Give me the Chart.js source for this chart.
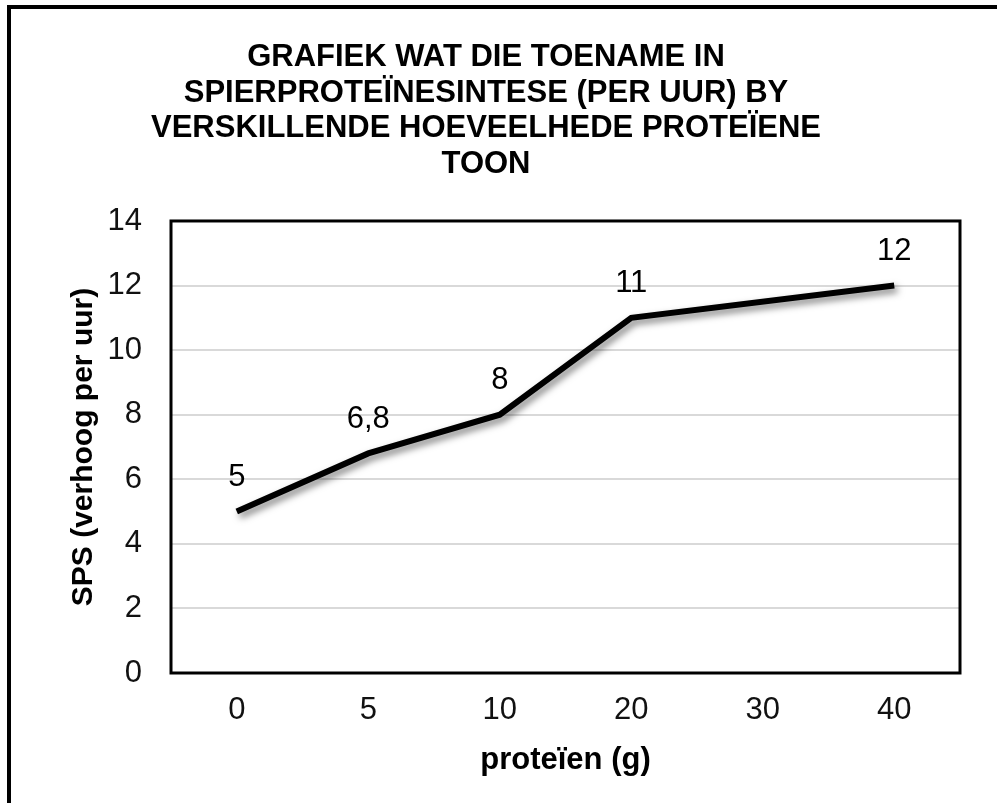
<!DOCTYPE html>
<html>
<head>
<meta charset="utf-8">
<script src="https://cdn.jsdelivr.net/npm/chart.js@4"></script>
<style>
  html, body { margin: 0; padding: 0; background: #fff; overflow: hidden; }
  #wrap { position: relative; width: 997px; height: 803px; }
  #frame { position: absolute; left: 7px; top: 5px; width: 1010px; height: 820px; border: 4px solid #000; box-sizing: border-box; pointer-events: none; }
  canvas { position: absolute; left: 0; top: 0; }
</style>
</head>
<body>
<div id="wrap">
  <canvas id="c" width="997" height="803"></canvas>
  <div id="frame"></div>
</div>
<script>
const categories = ['0', '5', '10', '20', '30', '40'];
const spsValues = [5, 6.8, 8, 11, null, 12];
const valueLabels = ['5', '6,8', '8', '11', '', '12'];
const titleLines = ['GRAFIEK WAT DIE TOENAME IN', 'SPIERPROTEÏNESINTESE (PER UUR) BY', 'VERSKILLENDE HOEVEELHEDE PROTEÏENE', 'TOON'];
const xTitle = 'proteïen (g)';
const yTitle = 'SPS (verhoog per uur)';

const FONT = "'Liberation Sans', Arial, sans-serif";

const shadowPlugin = {
  id: 'shadowLine',
  beforeDatasetDraw(chart) {
    const ctx = chart.ctx;
    ctx.save();
    ctx.shadowColor = 'rgba(0,0,0,0.5)';
    ctx.shadowBlur = 7;
    ctx.shadowOffsetX = 3;
    ctx.shadowOffsetY = 4;
  },
  afterDatasetDraw(chart) {
    chart.ctx.restore();
  }
};

const framePlugin = {
  id: 'plotFrame',
  beforeDatasetsDraw(chart) {
    const {ctx, chartArea: a} = chart;
    ctx.save();
    ctx.strokeStyle = '#000';
    ctx.lineWidth = 3;
    ctx.strokeRect(a.left, a.top, a.right - a.left, a.bottom - a.top);
    ctx.restore();
  }
};

const labelPlugin = {
  id: 'valueLabels',
  afterDatasetsDraw(chart) {
    const ctx = chart.ctx;
    const meta = chart.getDatasetMeta(0);
    ctx.save();
    ctx.font = '31px ' + FONT;
    ctx.fillStyle = '#000';
    ctx.textAlign = 'center';
    ctx.textBaseline = 'middle';
    meta.data.forEach((pt, i) => {
      const t = valueLabels[i];
      if (!t || spsValues[i] === null) return;
      ctx.fillText(t, pt.x, pt.y - 34);
    });
    ctx.restore();
  }
};

new Chart(document.getElementById('c'), {
  type: 'line',
  data: {
    labels: categories,
    datasets: [{
      data: spsValues,
      borderColor: '#000',
      borderWidth: 6,
      pointRadius: 0,
      pointHoverRadius: 0,
      spanGaps: true,
      tension: 0,
      fill: false
    }]
  },
  options: {
    responsive: false,
    animation: false,
    events: [],
    layout: { padding: { left: 12, right: 37, top: 40, bottom: 0 } },
    plugins: {
      legend: { display: false },
      tooltip: { enabled: false },
      title: {
        display: true,
        text: titleLines,
        color: '#000',
        font: { family: FONT, size: 31, weight: 'bold', lineHeight: 1.145 },
        padding: { top: 0, bottom: 39 }
      }
    },
    scales: {
      x: {
        type: 'category',
        offset: true,
        grid: { display: false, drawTicks: false },
        border: { display: false },
        ticks: { color: '#111', font: { family: FONT, size: 31 }, padding: 19, maxRotation: 0 },
        title: { display: true, text: xTitle, color: '#000', font: { family: FONT, size: 31, weight: 'bold', lineHeight: 1.2 }, padding: { top: 0, bottom: 24 } },
        afterFit(s) { s.height = 130; }
      },
      y: {
        min: 0, max: 14,
        ticks: { stepSize: 2, color: '#111', font: { family: FONT, size: 31 }, padding: 29 },
        grid: { color: '#d9d9d9', lineWidth: 2, drawTicks: false },
        border: { display: false },
        title: { display: true, text: yTitle, color: '#000', font: { family: FONT, size: 30, weight: 'bold', lineHeight: 1.2 }, padding: { top: 54, bottom: 0 } },
        afterFit(s) { s.width = 159; }
      }
    }
  },
  plugins: [shadowPlugin, framePlugin, labelPlugin]
});
</script>
</body>
</html>
